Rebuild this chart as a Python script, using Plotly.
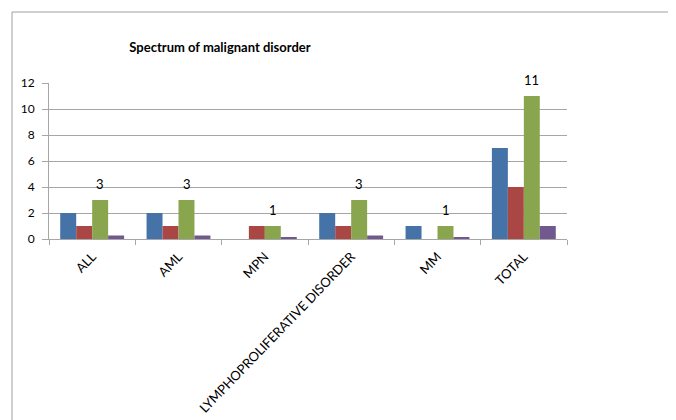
import plotly.graph_objects as go

categories = ["ALL", "AML", "MPN", "LYMPHOPROLIFERATIVE DISORDER", "MM", "TOTAL"]
series1 = [2, 2, 0, 2, 1, 7]
series2 = [1, 1, 1, 1, 0, 4]
series3 = [3, 3, 1, 3, 1, 11]
series4 = [0.27, 0.27, 0.09, 0.27, 0.09, 1]
colors = ["#4572A7", "#AA4643", "#89A54E", "#71588F"]

FONT = "Lato"

fig = go.Figure()
for i, (vals, c) in enumerate(zip([series1, series2, series3, series4], colors)):
    fig.add_trace(go.Bar(x=categories, y=vals, marker=dict(color=c, line=dict(width=0)),
                         name=f"S{i+1}", offsetgroup=str(i)))

for cat, v in zip(categories, series3):
    fig.add_annotation(x=cat, y=v, text=str(v), showarrow=False, yanchor="middle",
                       yshift=16, xshift=8, font=dict(family=FONT, size=13, color="#000"))

grid = "#a6a6a6"
fig.update_layout(
    width=676, height=420,
    margin=dict(l=41, r=117, t=75, b=189),
    paper_bgcolor="white", plot_bgcolor="white",
    showlegend=False,
    barmode="group", bargap=0.26, bargroupgap=0,
    title=dict(text="<b>Spectrum of malignant disorder</b>", x=(220 - 8) / 676, xanchor="center",
               y=1 - 39 / 420, yanchor="middle",
               font=dict(family=FONT, size=13, color="#000")),
    xaxis=dict(showgrid=False, showline=True, linecolor=grid, ticks="outside",
               tickson="boundaries", tickcolor=grid, ticklen=5, tickangle=-46,
               ticklabelstandoff=4,
               tickfont=dict(family=FONT, size=13, color="#000")),
    yaxis=dict(range=[0, 12], dtick=2, showgrid=True, gridcolor=grid, showline=True,
               linecolor=grid, ticks="outside", tickcolor=grid, ticklen=6, zeroline=False,
               ticklabelstandoff=5,
               tickfont=dict(family=FONT, size=12, color="#000")),
)

fig.add_shape(type="line", xref="paper", yref="paper", x0=-0.0714, x1=-0.0714, y0=-1.5, y1=1.455,
              line=dict(color="#a0a0a0", width=1))
fig.add_shape(type="line", xref="paper", yref="paper", x0=-0.0714, x1=1.3, y0=1.455, y1=1.455,
              line=dict(color="#a0a0a0", width=1))

fig.write_html("out.html")
